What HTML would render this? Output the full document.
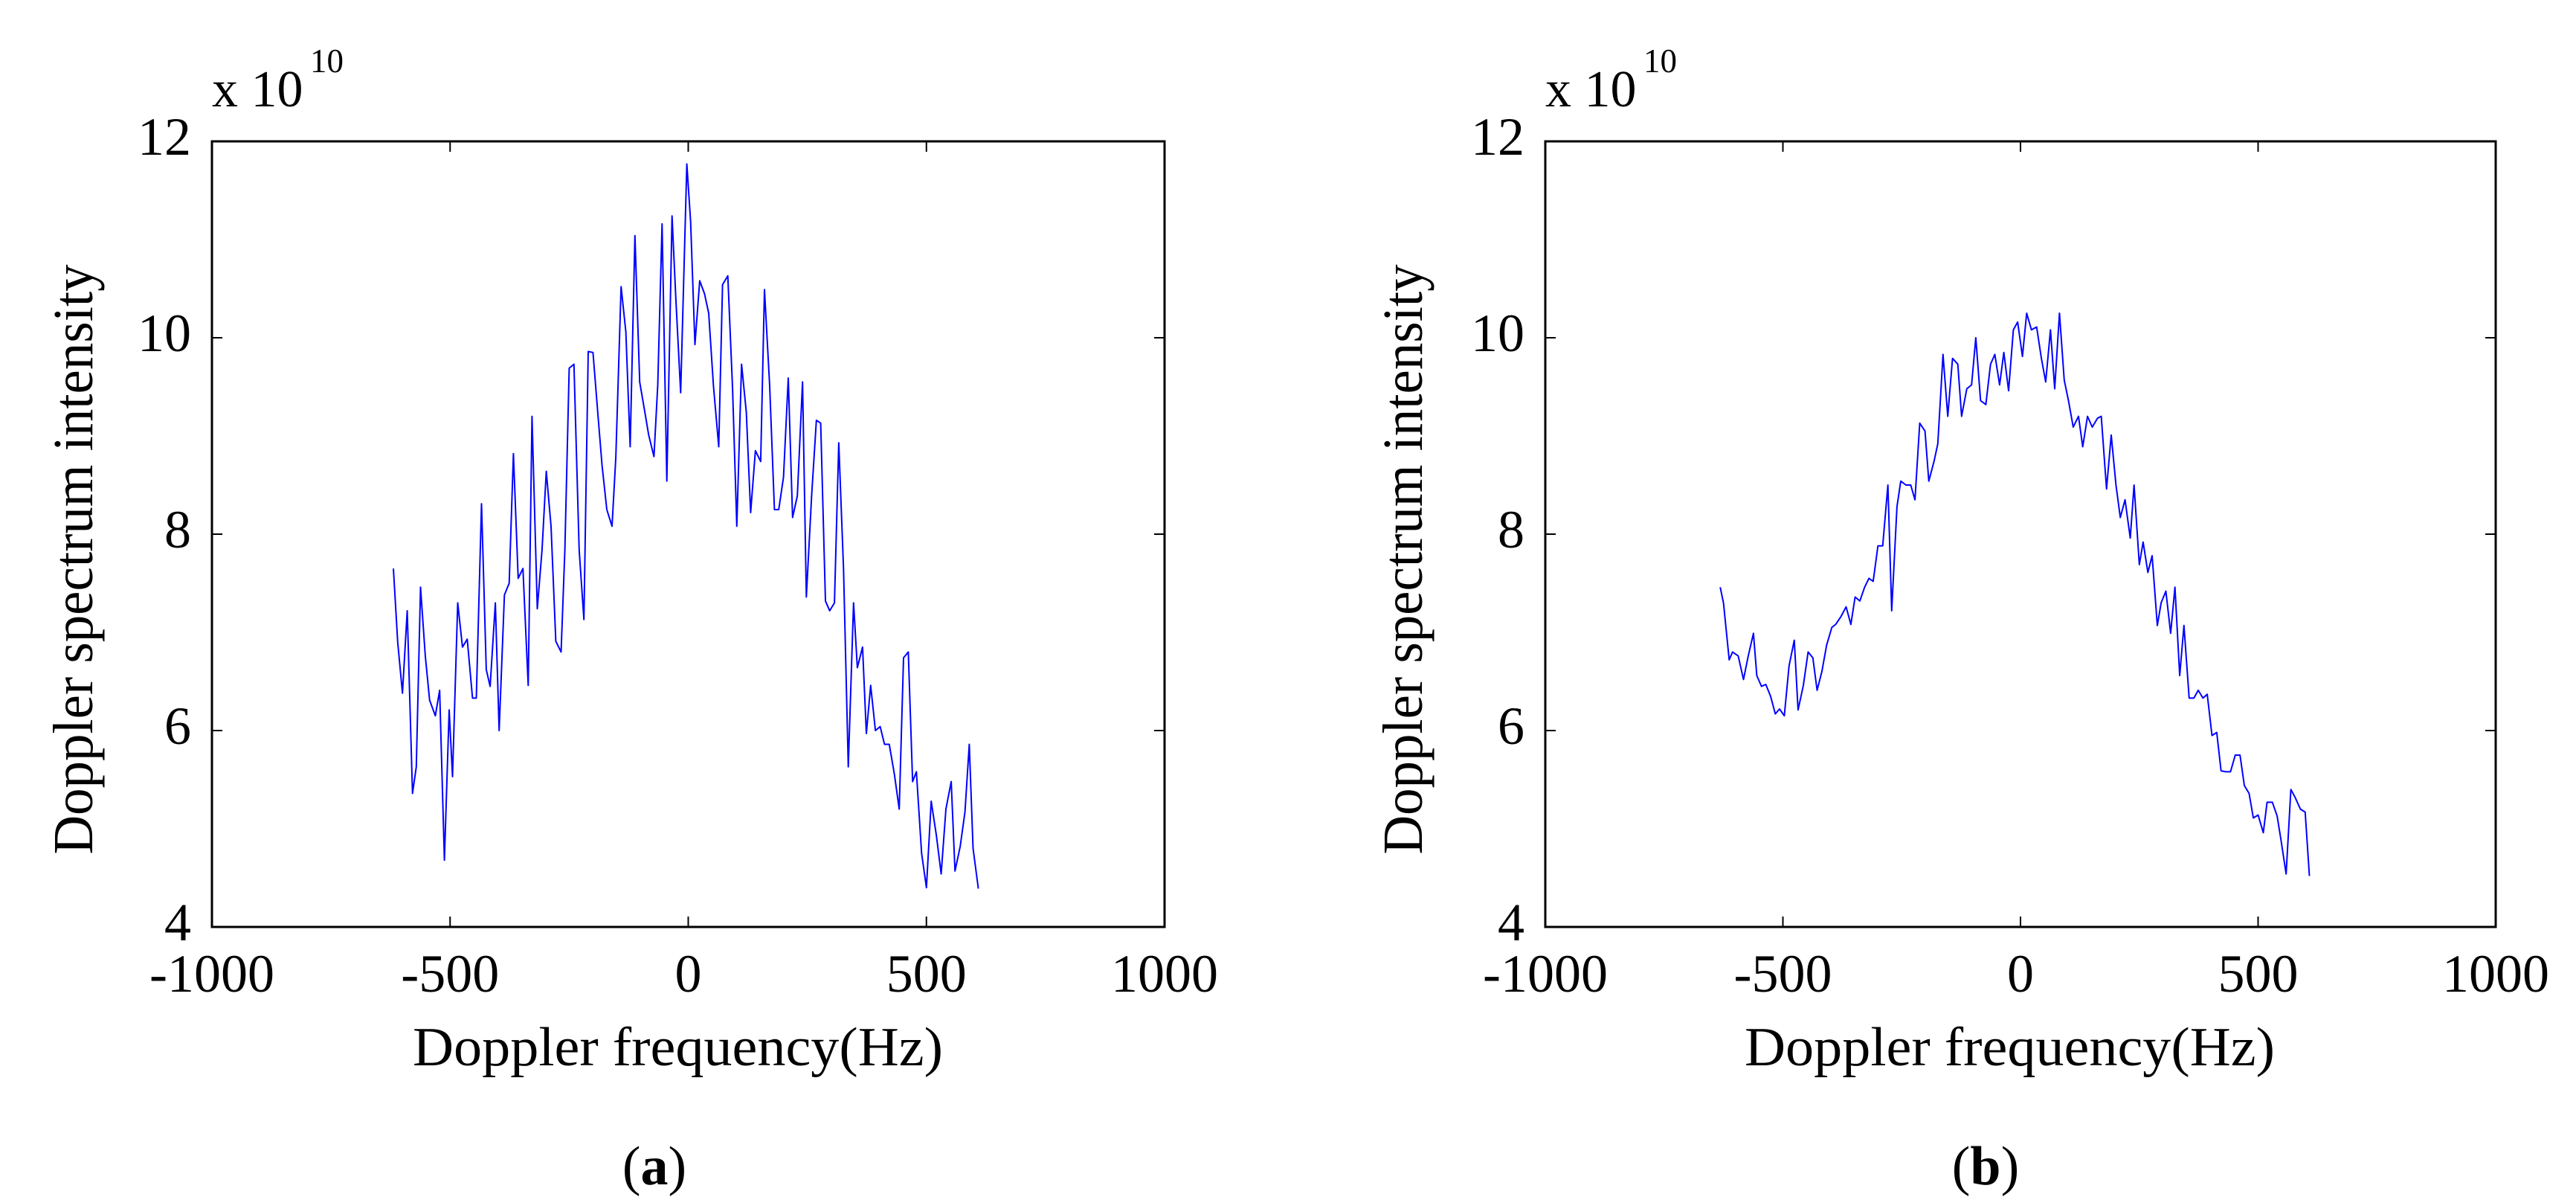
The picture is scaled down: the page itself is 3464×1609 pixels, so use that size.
<!DOCTYPE html>
<html><head><meta charset="utf-8"><style>
html,body{margin:0;padding:0;background:#fff;}
svg{display:block;}
text{font-family:"Liberation Serif","Times New Roman",serif;fill:#000;}
</style></head><body>
<svg id="fig" width="3464" height="1609" viewBox="0 0 3464 1609" xmlns="http://www.w3.org/2000/svg"></svg>
<script>
const xTicks=[-1000,-500,0,500,1000];
const yTicks=[4,6,8,10,12];
const freqA=[-619,-610,-600,-590,-579,-571,-562,-552,-543,-531,-522,-512,-502,-495,-484,-474,-464,-453,-445,-434,-424,-416,-405,-397,-386,-376,-367,-357,-347,-336,-328,-317,-307,-298,-288,-278,-267,-259,-250,-240,-229,-219,-210,-200,-190,-181,-171,-160,-152,-141,-131,-122,-112,-102,-91,-83,-72,-64,-55,-45,-34,-26,-16,-3,5,14,24,34,43,53,64,72,83,93,102,112,122,131,141,152,160,171,181,190,200,210,219,229,240,248,259,269,278,288,297,307,316,326,336,347,355,366,374,383,393,403,412,422,433,443,452,462,471,479,490,500,510,521,531,541,552,560,571,581,590,598,609];
const intensityA=[7.65,6.9,6.38,7.22,5.36,5.63,7.46,6.76,6.31,6.15,6.41,4.68,6.21,5.53,7.30,6.85,6.93,6.33,6.33,8.31,6.62,6.45,7.30,6.0,7.38,7.50,8.82,7.55,7.65,6.46,9.20,7.24,7.84,8.64,8.08,6.91,6.80,7.84,9.69,9.73,7.84,7.13,9.86,9.85,9.24,8.70,8.25,8.08,8.78,10.52,10.06,8.89,11.04,9.55,9.24,9.01,8.79,9.52,11.16,8.54,11.24,10.40,9.44,11.77,11.18,9.93,10.58,10.45,10.25,9.51,8.89,10.54,10.63,9.48,8.08,9.73,9.24,8.22,8.85,8.74,10.49,9.51,8.25,8.25,8.58,9.59,8.17,8.39,9.55,7.36,8.39,9.16,9.13,7.32,7.22,7.30,8.93,7.65,5.63,7.30,6.64,6.85,5.97,6.46,6.0,6.04,5.86,5.86,5.55,5.20,6.74,6.80,5.48,5.58,4.75,4.40,5.28,4.93,4.54,5.20,5.48,4.57,4.82,5.17,5.86,4.80,4.39];
const freqB=[-632,-625,-613,-606,-594,-583,-573,-562,-555,-545,-536,-526,-516,-507,-497,-487,-476,-468,-457,-447,-437,-428,-418,-408,-397,-389,-378,-367,-357,-348,-338,-328,-319,-310,-300,-290,-279,-271,-260,-252,-241,-231,-222,-212,-201,-193,-182,-174,-163,-153,-143,-132,-124,-113,-103,-94,-84,-73,-63,-54,-44,-35,-25,-15,-6,4,13,23,34,44,53,63,72,82,92,101,111,122,131,141,151,162,170,181,191,201,210,220,231,239,250,258,268,277,288,296,306,316,325,335,344,355,365,374,384,393,403,413,422,432,442,452,462,471,481,490,500,511,519,530,540,548,559,569,578,589,599,608];
const intensityB=[7.46,7.30,6.72,6.80,6.76,6.52,6.76,6.99,6.56,6.45,6.47,6.35,6.17,6.22,6.15,6.66,6.92,6.21,6.46,6.80,6.74,6.41,6.60,6.87,7.05,7.08,7.16,7.26,7.08,7.36,7.32,7.46,7.55,7.52,7.88,7.88,8.50,7.22,8.28,8.54,8.50,8.50,8.35,9.13,9.05,8.54,8.74,8.92,9.83,9.20,9.79,9.73,9.20,9.48,9.52,10.0,9.36,9.32,9.73,9.83,9.52,9.85,9.46,10.08,10.16,9.81,10.25,10.08,10.11,9.79,9.55,10.08,9.48,10.25,9.57,9.36,9.09,9.20,8.89,9.20,9.09,9.18,9.20,8.46,9.01,8.50,8.17,8.35,7.96,8.50,7.69,7.92,7.61,7.78,7.07,7.30,7.42,6.99,7.46,6.56,7.07,6.33,6.33,6.41,6.33,6.37,5.95,5.98,5.59,5.58,5.58,5.75,5.75,5.44,5.36,5.11,5.14,4.96,5.27,5.27,5.13,4.89,4.54,5.40,5.32,5.20,5.17,4.52];

const NS='http://www.w3.org/2000/svg';
const svg=document.getElementById('fig');
function mk(tag,attrs,parent){const e=document.createElementNS(NS,tag);for(const k in attrs)e.setAttribute(k,attrs[k]);(parent||svg).appendChild(e);return e;}

function panel(p){
  const g=mk('g',{});
  
  
  const X=v=>p.x0+(v-(-1000))/2000*(p.x1-p.x0);
  const Y=v=>p.y1-(v-4)/8*(p.y1-p.y0);
  const box=mk('rect',{x:p.x0,y:p.y0,width:p.x1-p.x0,height:p.y1-p.y0,fill:'none',stroke:'#000','stroke-width':3},g);
  
  
  xTicks.forEach(t=>{
    const x=X(t);
    mk('line',{x1:x,x2:x,y1:p.y1,y2:p.y1-14,stroke:'#000','stroke-width':2},g);
    mk('line',{x1:x,x2:x,y1:p.y0,y2:p.y0+14,stroke:'#000','stroke-width':2},g);
    const tx=mk('text',{x:x,y:1333,'font-size':72,'text-anchor':'middle'},g);
    tx.textContent=String(t);
    
    
  });
  yTicks.forEach(t=>{
    const y=Y(t);
    mk('line',{x1:p.x0,x2:p.x0+14,y1:y,y2:y,stroke:'#000','stroke-width':2},g);
    mk('line',{x1:p.x1,x2:p.x1-14,y1:y,y2:y,stroke:'#000','stroke-width':2},g);
    const ty=mk('text',{x:p.x0-28,y:y+18,'font-size':72,'text-anchor':'end'},g);
    ty.textContent=String(t);
    
    
  });
  const d=p.fx.map((f,i)=>(i?'L':'M')+X(f).toFixed(1)+' '+Y(p.vy[i]).toFixed(1)).join(' ');
  const ln=mk('path',{d:d,fill:'none',stroke:'#0000ff','stroke-width':2,'stroke-linejoin':'round'},g);
  
  
  const xl=mk('text',{x:p.xlx,y:1432,'font-size':74,textLength:713,lengthAdjust:'spacingAndGlyphs'},g);
  xl.textContent='Doppler frequency(Hz)';
  
  
  const yl=mk('text',{x:0,y:0,'font-size':76,'text-anchor':'middle',textLength:793,lengthAdjust:'spacingAndGlyphs',transform:'translate('+p.ylx+',752) rotate(-90)'},g);
  yl.textContent='Doppler spectrum intensity';
  
  
  const ex=mk('text',{x:p.x0,y:143,'font-size':70},g);
  ex.textContent='x 10';
  
  
  const sup=mk('text',{x:p.x0+132,y:97,'font-size':45},g);
  sup.textContent='10';
  
  
  const cap=mk('text',{x:p.capx,y:1592,'font-size':74,'text-anchor':'middle'},g);
  cap.innerHTML='(<tspan font-weight="bold">'+p.cap+'</tspan>)';
  
  
}
panel({name:'panel-a',x0:285,x1:1566,y0:190,y1:1246,fx:freqA,vy:intensityA,ylx:124,xlx:555,capx:880,cap:'a'});
panel({name:'panel-b',x0:2078,x1:3356,y0:190,y1:1246,fx:freqB,vy:intensityB,ylx:1912,xlx:2346,capx:2670,cap:'b'});
</script>
</body></html>
